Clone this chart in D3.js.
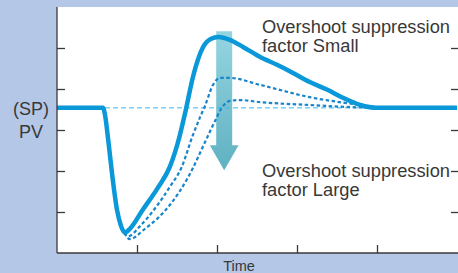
<!DOCTYPE html>
<html>
<head>
<meta charset="utf-8">
<script src="https://cdn.jsdelivr.net/npm/d3@7"></script>
<style>
  html, body { margin: 0; padding: 0; background: #b4c7e7; }
  svg { display: block; font-family: "Liberation Sans", Arial, sans-serif; }
  .lbl { fill: #383838; }
  .axis path, .axis line { stroke: #3a3a3a; stroke-width: 1.3; }
</style>
</head>
<body>
<div id="chart"></div>
<script>
/* PV response after a disturbance, with three overshoot suppression settings.
   Units: x = time (0..5), y = PV (0..6), SP sits at about 3.54 */

const SP = 3.54;
const xTicks = [1, 2, 3, 4];
const yTicks = [1, 2, 3, 4, 5];

// solid curve: suppression factor small
const pvSmall = [
  [0, 3.54], [0.575, 3.54], [0.6, 3.37], [0.64, 2.76], [0.69, 1.9], [0.75, 1.05],
  [0.8, 0.66], [0.85, 0.5], [0.91, 0.59], [1.07, 1.05], [1.26, 1.59], [1.41, 2.1],
  [1.53, 2.83], [1.61, 3.49], [1.7, 4.3], [1.82, 5.0], [1.92, 5.22], [2.02, 5.27],
  [2.16, 5.2], [2.33, 5.02], [2.54, 4.78], [2.75, 4.59], [2.95, 4.39], [3.16, 4.17],
  [3.38, 3.98], [3.58, 3.78], [3.79, 3.61], [4.0, 3.54], [5.0, 3.54]
];

// dotted curve: medium
const pvMedium = [
  [0.84, 0.49], [0.89, 0.41], [1.04, 0.66], [1.23, 1.1], [1.41, 1.61], [1.56, 2.1],
  [1.69, 2.83], [1.79, 3.32], [1.85, 3.59], [1.95, 4.1], [2.04, 4.27], [2.16, 4.27],
  [2.54, 4.1], [3.16, 3.8], [3.79, 3.61], [4.04, 3.54]
];

// dotted curve: suppression factor large
const pvLarge = [
  [0.84, 0.49], [0.91, 0.34], [1.1, 0.59], [1.26, 0.85], [1.41, 1.17], [1.64, 1.85],
  [1.88, 2.83], [1.98, 3.24], [2.06, 3.54], [2.16, 3.71], [2.29, 3.73], [2.54, 3.68],
  [3.16, 3.61], [3.79, 3.55], [4.04, 3.54]
];

// big arrow (centre, shaft half width, top, shaft end, head half width, tip)
const arrow = { x: 2.09, half: 0.1, top: 5.41, shaftEnd: 2.63, headHalf: 0.18, tip: 2.02 };

const W = 458, H = 273;
const plot = { left: 57, right: 458, top: 7, bottom: 253 };

const svg = d3.select("#chart").append("svg").attr("width", W).attr("height", H);

const x = d3.scaleLinear().domain([0, 5]).range([plot.left, plot.left + 400]);
const y = d3.scaleLinear().domain([0, 6]).range([plot.bottom, plot.top]);

// white plotting area
svg.append("rect")
    .attr("x", plot.left).attr("y", plot.top)
    .attr("width", plot.right - plot.left).attr("height", plot.bottom - plot.top)
    .attr("fill", "#fff");

// gradient for the arrow
const grad = svg.append("defs").append("linearGradient")
    .attr("id", "arrowGrad").attr("x1", 0).attr("y1", 0).attr("x2", 0).attr("y2", 1);
grad.append("stop").attr("offset", "0%").attr("stop-color", "#95d5e0");
grad.append("stop").attr("offset", "100%").attr("stop-color", "#5fb1c2");

const a = arrow;
svg.append("path")
    .attr("d", `M${x(a.x - a.half)},${y(a.top)} L${x(a.x + a.half)},${y(a.top)}
                L${x(a.x + a.half)},${y(a.shaftEnd)} L${x(a.x + a.headHalf)},${y(a.shaftEnd)}
                L${x(a.x)},${y(a.tip)} L${x(a.x - a.headHalf)},${y(a.shaftEnd)}
                L${x(a.x - a.half)},${y(a.shaftEnd)} Z`)
    .attr("fill", "url(#arrowGrad)");

// set point reference line
svg.append("line")
    .attr("x1", x(0.6)).attr("x2", x(4.04))
    .attr("y1", y(SP)).attr("y2", y(SP))
    .attr("stroke", "#2fbcec").attr("stroke-width", 1)
    .attr("stroke-dasharray", "5,3");

const line = d3.line().x(d => x(d[0])).y(d => y(d[1])).curve(d3.curveMonotoneX);

[pvLarge, pvMedium].forEach(s => {
  svg.append("path").datum(s).attr("d", line)
      .attr("fill", "none").attr("stroke", "#1784cc")
      .attr("stroke-width", 2.2).attr("stroke-dasharray", "3.5,2.5");
});

svg.append("path").datum(pvSmall).attr("d", line)
    .attr("fill", "none").attr("stroke", "#0a98d9")
    .attr("stroke-width", 4.5).attr("stroke-linejoin", "round");

// axes: ticks point into the plot, no numbers
svg.append("g").attr("class", "axis")
    .attr("transform", `translate(${plot.left},0)`)
    .call(d3.axisRight(y).tickValues(yTicks).tickSize(8).tickFormat(""))
    .call(g => g.select(".domain").attr("d", `M0,${plot.top}V${plot.bottom}`));

svg.append("g").attr("class", "axis")
    .attr("transform", `translate(${plot.right},0)`)
    .call(d3.axisLeft(y).tickValues(yTicks).tickSize(7).tickFormat(""))
    .call(g => g.select(".domain").remove());

svg.append("g").attr("class", "axis")
    .attr("transform", `translate(0,${plot.bottom})`)
    .call(d3.axisTop(x).tickValues(xTicks).tickSize(8).tickFormat(""))
    .call(g => g.select(".domain").attr("d", `M${plot.left},0H${plot.right}`));

// labels
svg.append("text").attr("class", "lbl").attr("x", 31).attr("y", 115)
    .attr("text-anchor", "middle").attr("font-size", 18).text("(SP)");
svg.append("text").attr("class", "lbl").attr("x", 31).attr("y", 138)
    .attr("text-anchor", "middle").attr("font-size", 18).text("PV");
svg.append("text").attr("class", "lbl").attr("x", 239).attr("y", 270.5)
    .attr("text-anchor", "middle").attr("font-size", 14.5).text("Time");

function note(lines, yTop){
  const t = svg.append("text").attr("class", "lbl").attr("font-size", 18.3);
  lines.forEach((s, i) => t.append("tspan").attr("x", 262).attr("y", yTop + i * 19).text(s));
}
note(["Overshoot suppression", "factor Small"], 33);
note(["Overshoot suppression", "factor Large"], 177);
</script>
</body>
</html>
